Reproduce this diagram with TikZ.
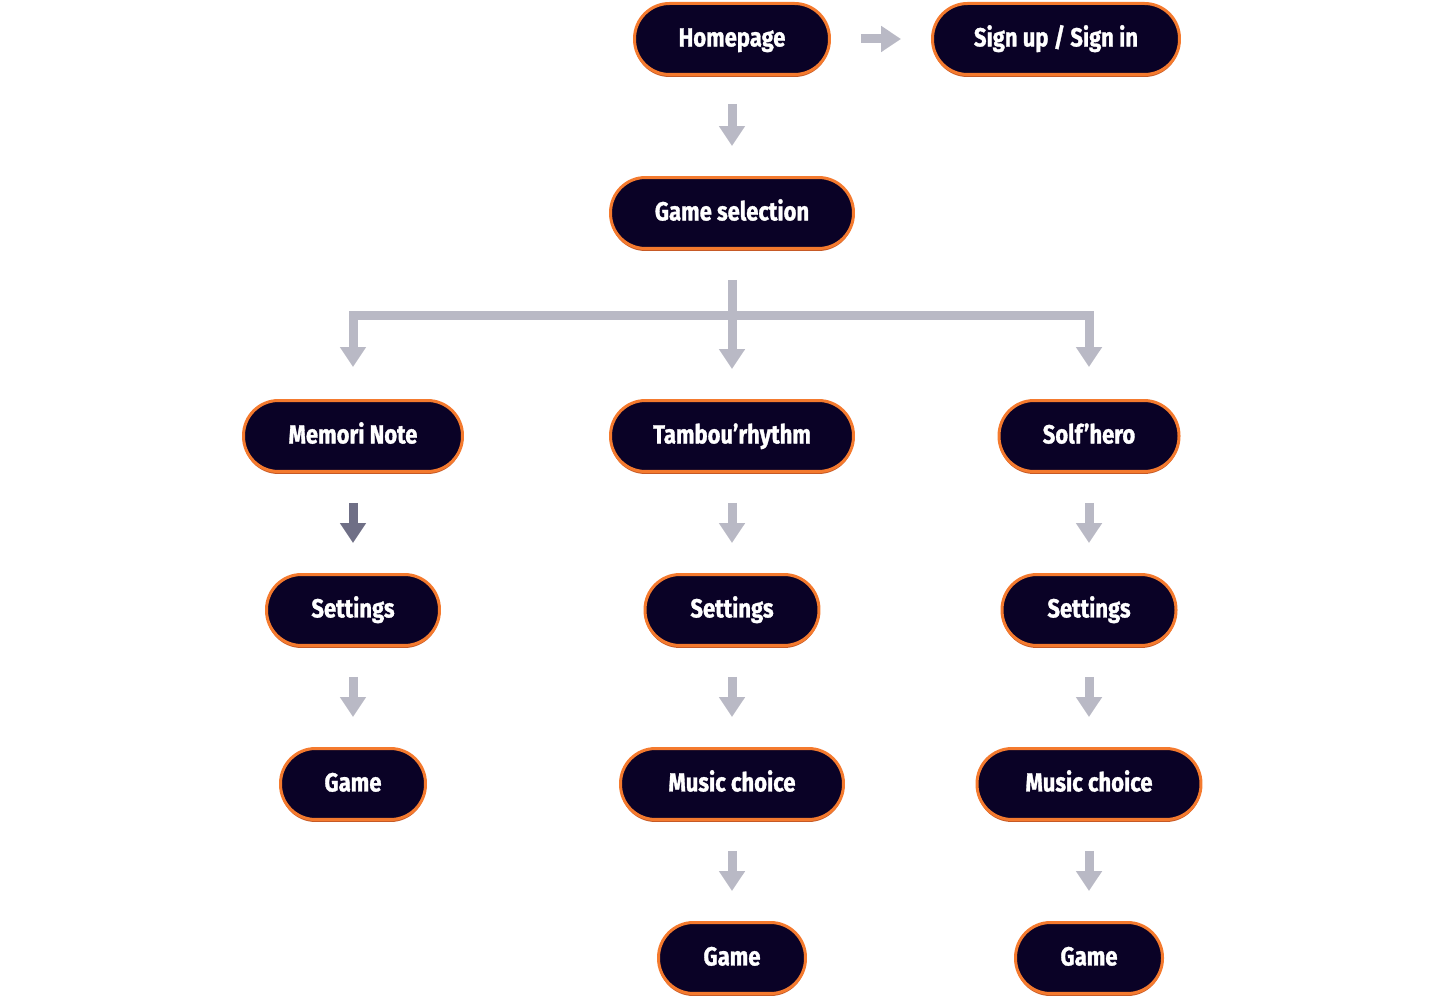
\documentclass[tikz,border=0pt]{standalone}
\usepackage{fontspec}
\setmainfont{Fira Sans}[FakeStretch=0.84, BoldFeatures={FakeBold=1.2}]
\usetikzlibrary{arrows.meta, shadows}

\definecolor{navy}{HTML}{0A0226}
\definecolor{flame}{HTML}{F47A2E}
\definecolor{rust}{HTML}{C65A26}
\definecolor{steel}{HTML}{B9B9C5}
\definecolor{slate}{HTML}{6F6F86}

\begin{document}
\begin{tikzpicture}[x=0.02cm, y=-0.02cm,
  screen/.style={draw=flame, fill=navy, line width=0.06cm, rounded corners=0.7cm,
    minimum height=1.42cm, text=white, font=\fontsize{14.9}{18}\selectfont\bfseries,
    text height=1.85ex, text depth=0.25ex,
    general shadow={fill=rust, shadow xshift=0cm, shadow yshift=-0.05cm}},
  arr/.style={steel, line width=0.18cm, -{Triangle[width=0.5cm, length=0.4cm]},
    shorten <=0.6cm, shorten >=0.6cm}]

\useasboundingbox (0,0) rectangle (1446,999);

% Top row
\node[screen, minimum width=3.9cm] (home) at (732,39) {Homepage};
\node[screen, minimum width=4.94cm] (sign) at (1056,39) {Sign up / Sign in};
\node[screen, minimum width=4.86cm] (select) at (732,213) {Game selection};

% Games
\node[screen, minimum width=4.38cm] (memori) at (353,436) {Memori Note};
\node[screen, minimum width=4.86cm] (tambou) at (732,436) {Tambou’rhythm};
\node[screen, minimum width=3.6cm] (solf) at (1089,436) {Solf’hero};

% Memori Note flow
\node[screen, minimum width=3.46cm] (memset) at (353,610) {Settings};
\node[screen, minimum width=2.9cm] (memgame) at (353,784) {Game};

% Tambou'rhythm flow
\node[screen, minimum width=3.48cm] (tamset) at (732,610) {Settings};
\node[screen, minimum width=4.46cm] (tammusic) at (732,784) {Music choice};
\node[screen, minimum width=2.94cm] (tamgame) at (732,958) {Game};

% Solf'hero flow
\node[screen, minimum width=3.48cm] (solset) at (1089,610) {Settings};
\node[screen, minimum width=4.48cm] (solmusic) at (1089,784) {Music choice};
\node[screen, minimum width=2.94cm] (solgame) at (1089,958) {Game};

% Arrows
\draw[arr] (home) -- (sign);
\draw[arr, shorten <=0.56cm] (home) -- (select);

\draw[arr] (select) -- (tambou);
\draw[arr, shorten >=0cm] ([yshift=-0.58cm]select.south) -- ++(0,37) -| ([yshift=0.64cm]memori.north);
\draw[arr, shorten >=0cm] ([yshift=-0.58cm]select.south) -- ++(0,37) -| ([yshift=0.64cm]solf.north);

\draw[arr, slate] (memori) -- (memset);
\draw[arr] (memset) -- (memgame);

\draw[arr] (tambou) -- (tamset);
\draw[arr] (tamset) -- (tammusic);
\draw[arr] (tammusic) -- (tamgame);

\draw[arr] (solf) -- (solset);
\draw[arr] (solset) -- (solmusic);
\draw[arr] (solmusic) -- (solgame);

\end{tikzpicture}
\end{document}
